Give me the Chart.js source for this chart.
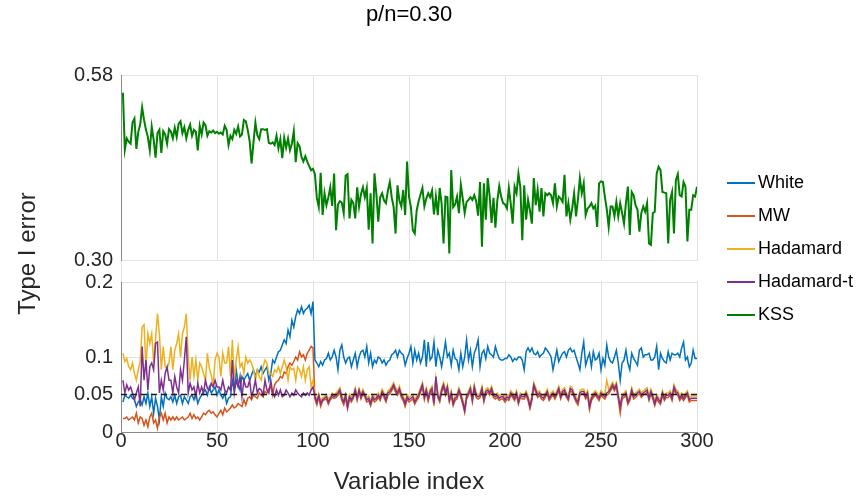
<!DOCTYPE html>
<html>
<head>
<meta charset="utf-8">
<script src="https://cdn.jsdelivr.net/npm/chart.js@4.4.1/dist/chart.umd.min.js"></script>
<style>
  html, body { margin: 0; padding: 0; background: #fff; }
</style>
</head>
<body>
<canvas id="typeOneError" width="863" height="498"></canvas>
<script>
const chartTitle = 'p/n=0.30'
const xTitle = 'Variable index'
const yTitle = 'Type I error'

const seriesNames = ['White', 'MW', 'Hadamard', 'Hadamard-t', 'KSS']
const seriesColors = ['#0072BD', '#D95319', '#EDB120', '#7E2F8E', '#008000']

const xTicks = [0, 50, 100, 150, 200, 250, 300]
const topTicks = [0.30, 0.58]
const topTickLabels = ['0.30', '0.58']
const bottomTicks = [0, 0.05, 0.1, 0.2]
const bottomTickLabels = ['0', '0.05', '0.1', '0.2']
const nominalLevel = 0.05

// variable index 1..300
const variableIndex = Array.from({length: 300}, (_, i) => i + 1)

const white = [
  0.040,0.049,0.047,0.045,0.049,0.045,0.043,0.034,0.040,0.043,
  0.036,0.047,0.038,0.052,0.034,0.047,0.025,0.045,0.034,0.016,
  0.047,0.034,0.052,0.045,0.043,0.047,0.040,0.049,0.038,0.047,
  0.049,0.038,0.047,0.043,0.038,0.047,0.049,0.043,0.052,0.038,
  0.045,0.049,0.054,0.056,0.049,0.060,0.052,0.056,0.060,0.049,
  0.056,0.049,0.045,0.052,0.038,0.045,0.047,0.069,0.056,0.083,
  0.065,0.056,0.074,0.069,0.074,0.078,0.069,0.076,0.083,0.074,
  0.083,0.080,0.087,0.078,0.083,0.087,0.069,0.078,0.096,0.092,
  0.100,0.107,0.109,0.116,0.123,0.118,0.136,0.127,0.149,0.140,
  0.154,0.163,0.158,0.167,0.158,0.163,0.165,0.169,0.158,0.174,
  0.096,0.092,0.087,0.094,0.089,0.096,0.098,0.105,0.096,0.100,
  0.109,0.100,0.083,0.109,0.116,0.100,0.092,0.098,0.100,0.087,
  0.096,0.105,0.087,0.100,0.107,0.109,0.100,0.114,0.092,0.105,
  0.087,0.096,0.092,0.100,0.098,0.092,0.096,0.089,0.094,0.096,
  0.103,0.105,0.109,0.100,0.109,0.105,0.103,0.089,0.098,0.105,
  0.114,0.092,0.109,0.096,0.105,0.092,0.100,0.123,0.087,0.120,
  0.096,0.100,0.120,0.087,0.109,0.100,0.087,0.103,0.120,0.100,
  0.105,0.089,0.109,0.098,0.096,0.083,0.105,0.087,0.100,0.123,
  0.096,0.109,0.087,0.105,0.112,0.123,0.087,0.105,0.109,0.098,
  0.114,0.105,0.103,0.100,0.114,0.105,0.098,0.096,0.096,0.098,
  0.098,0.103,0.100,0.094,0.098,0.096,0.100,0.100,0.096,0.083,
  0.107,0.112,0.107,0.112,0.105,0.103,0.107,0.100,0.103,0.105,
  0.112,0.109,0.105,0.100,0.083,0.096,0.109,0.094,0.100,0.105,
  0.107,0.100,0.109,0.112,0.107,0.109,0.100,0.092,0.083,0.105,
  0.120,0.089,0.098,0.105,0.087,0.107,0.096,0.098,0.105,0.083,
  0.098,0.089,0.116,0.100,0.094,0.092,0.100,0.109,0.092,0.069,
  0.092,0.096,0.109,0.092,0.083,0.105,0.098,0.094,0.089,0.109,
  0.112,0.100,0.103,0.103,0.105,0.096,0.096,0.100,0.114,0.083,
  0.105,0.098,0.094,0.092,0.107,0.096,0.105,0.103,0.103,0.105,
  0.100,0.112,0.120,0.096,0.100,0.087,0.092,0.109,0.098,0.098
]

const mw = [
  0.018,0.018,0.020,0.016,0.018,0.020,0.016,0.025,0.012,0.020,
  0.018,0.009,0.016,0.007,0.020,0.025,0.012,0.016,0.005,0.020,
  0.025,0.016,0.025,0.012,0.020,0.016,0.020,0.016,0.020,0.016,
  0.018,0.020,0.016,0.018,0.020,0.025,0.018,0.023,0.018,0.020,
  0.016,0.020,0.025,0.023,0.027,0.029,0.025,0.027,0.023,0.020,
  0.025,0.029,0.023,0.032,0.027,0.029,0.032,0.036,0.032,0.034,
  0.038,0.036,0.034,0.043,0.036,0.045,0.047,0.043,0.049,0.047,
  0.045,0.052,0.049,0.047,0.054,0.052,0.058,0.060,0.049,0.063,
  0.067,0.069,0.074,0.072,0.080,0.078,0.087,0.092,0.089,0.094,
  0.100,0.096,0.107,0.100,0.103,0.096,0.105,0.109,0.114,0.112,
  0.044,0.036,0.047,0.034,0.041,0.043,0.044,0.037,0.043,0.046,
  0.045,0.046,0.049,0.053,0.042,0.036,0.046,0.031,0.044,0.040,
  0.045,0.053,0.042,0.053,0.044,0.051,0.047,0.040,0.042,0.035,
  0.044,0.040,0.042,0.046,0.042,0.051,0.046,0.040,0.049,0.051,
  0.055,0.060,0.053,0.049,0.055,0.046,0.042,0.034,0.044,0.040,
  0.042,0.044,0.037,0.042,0.046,0.053,0.060,0.043,0.053,0.041,
  0.051,0.055,0.035,0.070,0.046,0.040,0.053,0.060,0.049,0.057,
  0.040,0.049,0.035,0.042,0.044,0.053,0.046,0.037,0.026,0.044,
  0.049,0.055,0.040,0.057,0.046,0.044,0.046,0.055,0.040,0.051,
  0.053,0.049,0.055,0.046,0.044,0.046,0.042,0.044,0.044,0.040,
  0.044,0.042,0.049,0.046,0.042,0.049,0.037,0.046,0.044,0.044,
  0.049,0.042,0.031,0.042,0.060,0.053,0.046,0.049,0.044,0.042,
  0.046,0.051,0.042,0.046,0.049,0.044,0.049,0.055,0.044,0.051,
  0.053,0.046,0.042,0.055,0.053,0.046,0.040,0.036,0.049,0.051,
  0.051,0.044,0.049,0.030,0.042,0.046,0.049,0.046,0.042,0.049,
  0.046,0.044,0.049,0.051,0.055,0.060,0.055,0.060,0.044,0.025,
  0.044,0.046,0.049,0.037,0.042,0.053,0.044,0.046,0.049,0.051,
  0.046,0.049,0.051,0.053,0.042,0.051,0.044,0.035,0.044,0.040,
  0.037,0.049,0.042,0.046,0.046,0.049,0.042,0.057,0.051,0.049,
  0.042,0.046,0.042,0.046,0.049,0.040,0.042,0.042,0.042,0.042
]

const hadamard = [
  0.105,0.094,0.098,0.087,0.083,0.092,0.078,0.069,0.083,0.094,
  0.140,0.143,0.087,0.131,0.118,0.131,0.092,0.125,0.158,0.131,
  0.083,0.114,0.087,0.085,0.092,0.114,0.083,0.109,0.118,0.131,
  0.100,0.131,0.140,0.158,0.100,0.069,0.100,0.074,0.096,0.069,
  0.092,0.087,0.078,0.069,0.105,0.085,0.076,0.062,0.096,0.105,
  0.100,0.074,0.105,0.092,0.092,0.114,0.074,0.123,0.069,0.096,
  0.114,0.087,0.092,0.078,0.100,0.092,0.096,0.092,0.083,0.069,
  0.083,0.074,0.069,0.087,0.096,0.092,0.078,0.078,0.074,0.083,
  0.080,0.087,0.078,0.087,0.096,0.087,0.069,0.087,0.083,0.085,
  0.069,0.087,0.083,0.074,0.087,0.069,0.083,0.087,0.060,0.069,
  0.050,0.043,0.051,0.041,0.046,0.047,0.050,0.044,0.047,0.052,
  0.049,0.052,0.055,0.059,0.048,0.043,0.051,0.037,0.050,0.046,
  0.050,0.059,0.047,0.058,0.050,0.057,0.051,0.046,0.048,0.041,
  0.050,0.046,0.047,0.052,0.048,0.057,0.052,0.046,0.055,0.057,
  0.061,0.066,0.059,0.055,0.061,0.052,0.048,0.041,0.050,0.046,
  0.048,0.050,0.043,0.048,0.052,0.059,0.066,0.050,0.059,0.048,
  0.057,0.061,0.041,0.072,0.052,0.046,0.059,0.066,0.055,0.063,
  0.046,0.055,0.041,0.048,0.050,0.059,0.052,0.043,0.032,0.050,
  0.055,0.061,0.046,0.063,0.052,0.050,0.052,0.061,0.046,0.057,
  0.059,0.055,0.061,0.052,0.050,0.052,0.048,0.050,0.050,0.046,
  0.050,0.048,0.055,0.052,0.048,0.055,0.043,0.052,0.050,0.050,
  0.055,0.048,0.037,0.048,0.066,0.059,0.052,0.055,0.050,0.048,
  0.052,0.057,0.048,0.052,0.055,0.050,0.055,0.061,0.050,0.057,
  0.059,0.052,0.048,0.061,0.059,0.052,0.046,0.043,0.055,0.057,
  0.057,0.050,0.055,0.037,0.048,0.052,0.055,0.052,0.048,0.055,
  0.052,0.050,0.069,0.057,0.061,0.066,0.061,0.066,0.050,0.037,
  0.050,0.052,0.055,0.043,0.048,0.059,0.050,0.052,0.055,0.057,
  0.052,0.055,0.057,0.059,0.048,0.057,0.050,0.041,0.050,0.046,
  0.043,0.055,0.048,0.052,0.052,0.055,0.048,0.063,0.057,0.055,
  0.048,0.052,0.048,0.052,0.055,0.046,0.048,0.048,0.048,0.048
]

const hadamardT = [
  0.069,0.052,0.063,0.056,0.060,0.052,0.043,0.052,0.060,0.034,
  0.114,0.069,0.096,0.056,0.087,0.092,0.083,0.118,0.120,0.052,
  0.069,0.056,0.078,0.087,0.069,0.069,0.052,0.074,0.060,0.052,
  0.083,0.069,0.096,0.127,0.052,0.065,0.056,0.060,0.047,0.065,
  0.052,0.060,0.052,0.069,0.058,0.056,0.065,0.060,0.069,0.060,
  0.060,0.056,0.069,0.056,0.052,0.060,0.056,0.096,0.052,0.069,
  0.060,0.074,0.047,0.069,0.060,0.060,0.069,0.047,0.056,0.069,
  0.052,0.058,0.056,0.049,0.069,0.056,0.052,0.069,0.052,0.047,
  0.056,0.049,0.056,0.047,0.049,0.056,0.052,0.047,0.052,0.049,
  0.056,0.052,0.049,0.047,0.052,0.049,0.052,0.049,0.056,0.060,
  0.047,0.040,0.049,0.038,0.043,0.045,0.047,0.040,0.045,0.049,
  0.047,0.049,0.052,0.056,0.045,0.040,0.049,0.034,0.047,0.043,
  0.047,0.056,0.045,0.056,0.047,0.054,0.049,0.043,0.045,0.038,
  0.047,0.043,0.045,0.049,0.045,0.054,0.049,0.043,0.052,0.054,
  0.058,0.063,0.056,0.052,0.058,0.049,0.045,0.038,0.047,0.043,
  0.045,0.047,0.040,0.045,0.049,0.056,0.063,0.047,0.056,0.045,
  0.054,0.058,0.038,0.074,0.049,0.043,0.056,0.063,0.052,0.060,
  0.043,0.052,0.038,0.045,0.047,0.056,0.049,0.040,0.029,0.047,
  0.052,0.058,0.043,0.060,0.049,0.047,0.049,0.058,0.043,0.054,
  0.056,0.052,0.058,0.049,0.047,0.049,0.045,0.047,0.047,0.043,
  0.047,0.045,0.052,0.049,0.045,0.052,0.040,0.049,0.047,0.047,
  0.052,0.045,0.034,0.045,0.063,0.056,0.049,0.052,0.047,0.045,
  0.049,0.054,0.045,0.049,0.052,0.047,0.052,0.058,0.047,0.054,
  0.056,0.049,0.045,0.058,0.056,0.049,0.043,0.040,0.052,0.054,
  0.054,0.047,0.052,0.034,0.045,0.049,0.052,0.049,0.045,0.052,
  0.049,0.047,0.052,0.054,0.058,0.063,0.058,0.063,0.047,0.034,
  0.047,0.049,0.052,0.040,0.045,0.056,0.047,0.049,0.052,0.054,
  0.049,0.052,0.054,0.056,0.045,0.054,0.047,0.038,0.047,0.043,
  0.040,0.052,0.045,0.049,0.049,0.052,0.045,0.060,0.054,0.052,
  0.045,0.049,0.045,0.049,0.052,0.043,0.045,0.045,0.045,0.045
]

const kss = [
  0.553,0.467,0.484,0.479,0.476,0.508,0.514,0.468,0.494,0.505,
  0.531,0.512,0.497,0.486,0.466,0.502,0.482,0.455,0.492,0.497,
  0.462,0.495,0.490,0.476,0.498,0.494,0.484,0.500,0.486,0.506,
  0.510,0.492,0.501,0.484,0.497,0.505,0.488,0.497,0.494,0.466,
  0.503,0.490,0.508,0.504,0.488,0.495,0.493,0.496,0.492,0.494,
  0.491,0.493,0.490,0.503,0.497,0.474,0.488,0.483,0.497,0.491,
  0.502,0.487,0.490,0.512,0.510,0.497,0.480,0.446,0.478,0.508,
  0.489,0.483,0.498,0.498,0.497,0.498,0.477,0.476,0.478,0.474,
  0.488,0.469,0.483,0.454,0.485,0.470,0.484,0.466,0.476,0.495,
  0.448,0.477,0.472,0.456,0.449,0.457,0.449,0.442,0.436,0.438,
  0.430,0.394,0.380,0.432,0.368,0.401,0.383,0.395,0.410,0.382,
  0.431,0.345,0.384,0.389,0.387,0.371,0.428,0.430,0.363,0.391,
  0.386,0.363,0.410,0.381,0.400,0.410,0.395,0.409,0.346,0.401,
  0.325,0.431,0.400,0.358,0.395,0.401,0.390,0.386,0.405,0.418,
  0.395,0.380,0.340,0.413,0.390,0.381,0.406,0.368,0.449,0.396,
  0.380,0.345,0.340,0.375,0.389,0.399,0.409,0.381,0.393,0.401,
  0.395,0.405,0.369,0.396,0.368,0.409,0.385,0.325,0.396,0.395,
  0.310,0.436,0.380,0.384,0.396,0.371,0.414,0.393,0.371,0.388,
  0.391,0.395,0.391,0.398,0.389,0.367,0.418,0.320,0.416,0.361,
  0.424,0.397,0.356,0.394,0.349,0.390,0.412,0.396,0.386,0.384,
  0.378,0.409,0.385,0.355,0.411,0.401,0.431,0.410,0.330,0.413,
  0.361,0.391,0.375,0.355,0.424,0.383,0.406,0.373,0.409,0.366,
  0.401,0.398,0.401,0.398,0.386,0.416,0.381,0.396,0.393,0.388,
  0.429,0.366,0.386,0.361,0.378,0.401,0.366,0.392,0.424,0.401,
  0.416,0.368,0.378,0.381,0.386,0.378,0.382,0.350,0.416,0.419,
  0.418,0.396,0.377,0.350,0.381,0.381,0.366,0.388,0.366,0.386,
  0.371,0.355,0.387,0.411,0.338,0.403,0.398,0.383,0.376,0.343,
  0.371,0.381,0.373,0.386,0.325,0.323,0.371,0.373,0.431,0.441,
  0.436,0.403,0.402,0.401,0.325,0.391,0.403,0.340,0.421,0.430,
  0.398,0.396,0.418,0.411,0.328,0.376,0.376,0.398,0.396,0.411
]

const textColor = '#262626'
const gridColor = '#e3e3e3'
const axisColor = '#8a8a8a'
const fontFamily = '"Liberation Sans", Arial, sans-serif'

// short coloured line with empty room on its left, used as legend symbol
function legendLine(color) {
  const c = document.createElement('canvas')
  c.width = 49
  c.height = 4
  const g = c.getContext('2d')
  g.fillStyle = color
  g.fillRect(21, 1, 28, 2)
  return c
}

function lineSet(i, data, axis, width, order) {
  return {
    label: seriesNames[i],
    data: data,
    yAxisID: axis,
    borderColor: seriesColors[i],
    backgroundColor: seriesColors[i],
    borderWidth: width,
    pointRadius: 0,
    pointStyle: legendLine(seriesColors[i]),
    tension: 0,
    order: order
  }
}

const panelGap = {
  id: 'panelGap',
  beforeInit(chart) {
    const fit = chart.legend.fit
    chart.legend.fit = function () {
      fit.call(this)
      this.width = 166
    }
  },
  beforeDatasetsDraw(chart) {
    // white out the x grid between the two panels
    const {ctx, chartArea} = chart
    const top = chart.scales.yTop
    const bot = chart.scales.yBot
    ctx.save()
    ctx.fillStyle = '#ffffff'
    ctx.fillRect(chartArea.left + 1, top.bottom + 1, chartArea.width + 2, bot.top - top.bottom - 2)
    ctx.restore()
  },
  afterDraw(chart) {
    // y title shared by both panels
    const {ctx} = chart
    const top = chart.scales.yTop
    const bot = chart.scales.yBot
    ctx.save()
    ctx.translate(28, (top.top + bot.bottom) / 2)
    ctx.rotate(-Math.PI / 2)
    ctx.font = '24px ' + fontFamily
    ctx.fillStyle = textColor
    ctx.textAlign = 'center'
    ctx.textBaseline = 'middle'
    ctx.fillText(yTitle, 0, 0)
    ctx.restore()
  }
}

const tickFont = {family: fontFamily, size: 20, lineHeight: 1}

const config = {
  type: 'line',
  data: {
    labels: variableIndex,
    datasets: [
      lineSet(0, white, 'yBot', 1.5, 5),
      lineSet(1, mw, 'yBot', 1.5, 4),
      lineSet(2, hadamard, 'yBot', 1.5, 3),
      lineSet(3, hadamardT, 'yBot', 1.5, 2),
      lineSet(4, kss, 'yTop', 2, 1),
      {
        label: 'nominal',
        data: [{x: xTicks[0], y: nominalLevel}, {x: xTicks[xTicks.length - 1], y: nominalLevel}],
        yAxisID: 'yBot',
        borderColor: '#1a1a1a',
        borderWidth: 1.3,
        borderDash: [6, 4],
        pointRadius: 0,
        order: 0
      }
    ]
  },
  options: {
    responsive: false,
    animation: false,
    devicePixelRatio: 1,
    layout: {padding: {left: 0, right: 0, top: 0, bottom: 0}},
    plugins: {
      title: {
        display: true,
        text: chartTitle,
        fullSize: false,
        color: '#000',
        font: {family: fontFamily, size: 22, weight: 'normal', lineHeight: 1.2},
        padding: {top: 2, bottom: 46.6}
      },
      legend: {
        position: 'right',
        align: 'center',
        labels: {
          usePointStyle: true,
          pointStyleWidth: 37,
          padding: 15,
          color: '#000',
          font: {family: fontFamily, size: 18},
          filter: item => item.datasetIndex < seriesNames.length,
          sort: (a, b) => a.datasetIndex - b.datasetIndex
        }
      },
      tooltip: {enabled: false}
    },
    scales: {
      x: {
        type: 'linear',
        min: xTicks[0],
        max: xTicks[xTicks.length - 1],
        afterBuildTicks: s => { s.ticks = xTicks.map(v => ({value: v})) },
        ticks: {font: tickFont, color: textColor, padding: -1, maxRotation: 0},
        grid: {color: gridColor, drawTicks: false},
        border: {color: axisColor},
        title: {display: true, text: xTitle, color: textColor, font: {family: fontFamily, size: 24}, padding: {top: 0, bottom: 1}},
        afterFit: s => { s.height = 66 }
      },
      yBot: {
        type: 'linear',
        position: 'left',
        stack: 'panels',
        stackWeight: 150,
        min: 0,
        max: 0.2,
        afterBuildTicks: s => { s.ticks = bottomTicks.map(v => ({value: v})) },
        ticks: {font: tickFont, color: textColor, padding: 8, callback: (v, i) => bottomTickLabels[i]},
        grid: {color: gridColor, drawTicks: false},
        border: {color: axisColor},
        afterFit: s => { s.width = 121 }
      },
      yGap: {
        type: 'linear',
        position: 'left',
        stack: 'panels',
        stackWeight: 22,
        display: false,
        min: 0,
        max: 1,
        afterFit: s => { s.width = 121 }
      },
      yTop: {
        type: 'linear',
        position: 'left',
        stack: 'panels',
        stackWeight: 185,
        min: topTicks[0],
        max: topTicks[topTicks.length - 1],
        afterBuildTicks: s => { s.ticks = topTicks.map(v => ({value: v})) },
        ticks: {font: tickFont, color: textColor, padding: 8, callback: (v, i) => topTickLabels[i]},
        grid: {color: gridColor, drawTicks: false},
        border: {color: axisColor},
        afterFit: s => { s.width = 121 }
      }
    }
  },
  plugins: [panelGap]
}

new Chart(document.getElementById('typeOneError'), config)
</script>
</body>
</html>
